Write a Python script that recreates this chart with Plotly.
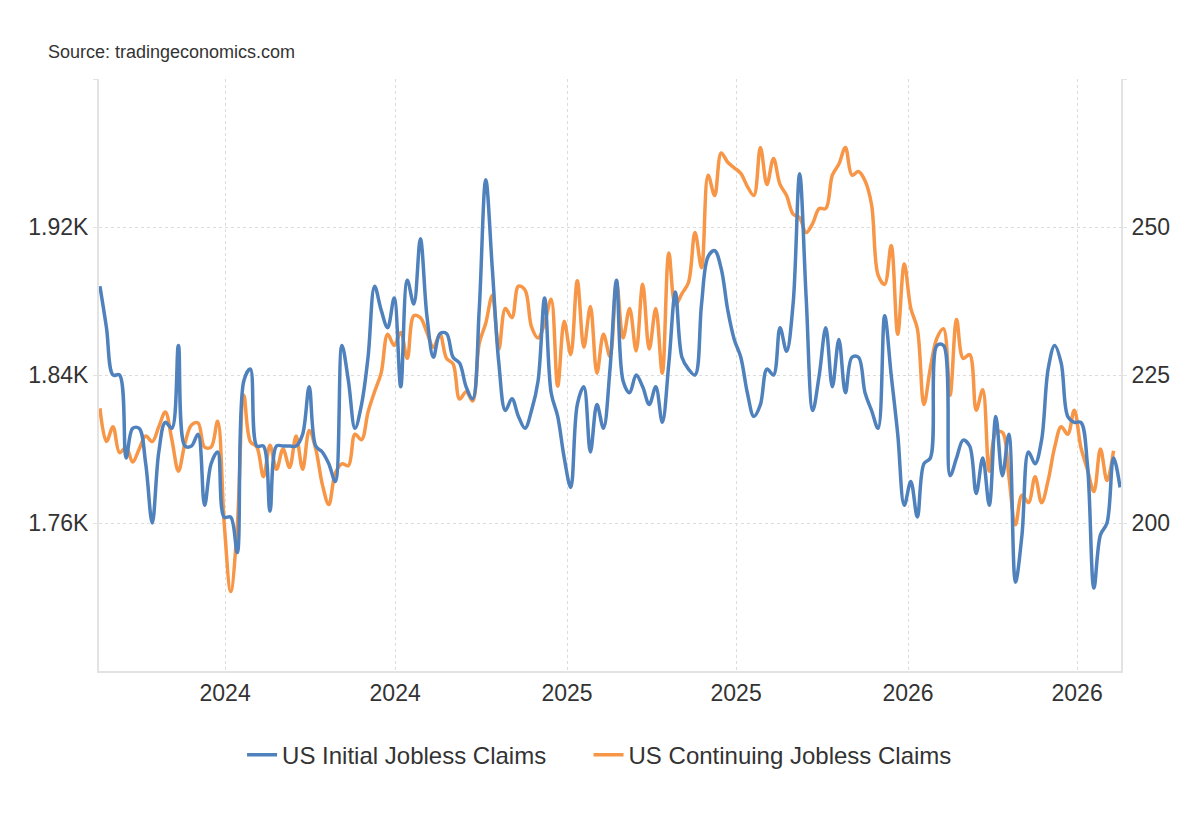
import pandas as pd
import plotly.graph_objects as go

# weekly readings, thousands
initial_claims = [
    240, 233, 225, 225, 211, 216, 216, 210, 200, 212,
    217, 216, 230, 213, 213, 215, 203, 210, 212, 201,
    201, 195, 224, 226, 213, 213, 202, 213, 213, 213,
    213, 215, 223, 213, 212, 210, 207, 230, 224, 216,
    220, 228, 240, 236, 233, 238, 223, 241, 237, 248,
    235, 228, 232, 232, 228, 227, 223, 221, 236, 258,
    243, 227, 219, 221, 218, 216, 219, 224, 238, 222,
    218, 211, 206, 220, 223, 212, 220, 216, 226, 241,
    224, 222, 225, 223, 220, 223, 217, 227, 239, 228,
    226, 225, 237, 245, 246, 243, 236, 231, 228, 222,
    218, 220, 226, 225, 233, 229, 237, 259, 238, 219,
    225, 233, 223, 231, 222, 228, 228, 222, 219, 216,
    235, 225, 215, 203, 207, 201, 210, 211, 230, 230,
    208, 211, 214, 213, 205, 211, 203, 218, 208, 215,
    190, 198, 212, 210, 214, 226, 230, 227, 218, 217,
    217, 210, 189, 198, 200, 211, 206,
]

continuing_claims = [
    1822, 1804, 1812, 1798, 1801, 1793, 1800, 1807, 1804, 1812,
    1820, 1805, 1788, 1803, 1813, 1814, 1801, 1801, 1815, 1760,
    1723, 1758, 1829, 1804, 1801, 1785, 1802, 1789, 1800, 1790,
    1807, 1789, 1810, 1800, 1781, 1770, 1787, 1792, 1791, 1808,
    1805, 1820, 1831, 1841, 1862, 1856, 1863, 1849, 1872, 1871,
    1863, 1855, 1862, 1849, 1846, 1827, 1831, 1826, 1857, 1868,
    1883, 1854, 1876, 1871, 1888, 1886, 1866, 1860, 1868, 1881,
    1834, 1869, 1851, 1891, 1855, 1877, 1841, 1862, 1850, 1890,
    1860, 1876, 1853, 1889, 1854, 1876, 1841, 1906, 1878, 1884,
    1890, 1917, 1898, 1948, 1937, 1960, 1955, 1952, 1949, 1942,
    1937, 1963, 1943, 1957, 1943, 1937, 1927, 1925, 1917, 1922,
    1930, 1930, 1948, 1954, 1963, 1948, 1950, 1945, 1932, 1894,
    1889, 1910, 1862, 1900, 1876, 1865, 1824, 1844, 1860, 1865,
    1829, 1870, 1849, 1851, 1821, 1832, 1788, 1809, 1809, 1785,
    1759, 1775, 1771, 1785, 1771, 1783, 1801, 1812, 1808, 1821,
    1801, 1789, 1777, 1800, 1783, 1799,
]

weeks = pd.date_range("2023-08-20", periods=len(initial_claims), freq="7D")

x_ticks = ["2024-01-01", "2024-07-01", "2025-01-01", "2025-07-01", "2026-01-01", "2026-07-01"]
x_labels = ["2024", "2024", "2025", "2025", "2026", "2026"]
left_ticks = [1760, 1840, 1920, 2000]
left_labels = ["1.76K", "1.84K", "1.92K", ""]
right_ticks = [200, 225, 250, 275]
right_labels = ["200", "225", "250", ""]

BLUE = "#4f81bd"
ORANGE = "#f79646"
GRID = "#dcdcdc"
AXIS = "#e3e3e3"
FONT = "Liberation Sans, Arial, Helvetica, sans-serif"

fig = go.Figure()
fig.add_trace(
    go.Scatter(
        x=weeks,
        y=initial_claims,
        name="US Initial Jobless Claims",
        mode="lines",
        line=dict(color=BLUE, width=3.5, shape="spline"),
        yaxis="y2",
        legend="legend",
    )
)
fig.add_trace(
    go.Scatter(
        x=weeks[: len(continuing_claims)],
        y=continuing_claims,
        name="US Continuing Jobless Claims",
        mode="lines",
        line=dict(color=ORANGE, width=3.5, shape="spline"),
        legend="legend2",
    )
)

legend_style = dict(
    orientation="h",
    xanchor="left",
    y=-0.142,
    yanchor="middle",
    font=dict(size=24, color="#333333"),
    itemwidth=30,
    bgcolor="rgba(0,0,0,0)",
)

# the page puts the figure 8px in from the top left corner, margins allow for it
fig.update_layout(
    width=1200,
    height=820,
    margin=dict(l=91, r=87, t=71, b=157),
    paper_bgcolor="white",
    plot_bgcolor="white",
    font=dict(family=FONT, size=23, color="#333333"),
    showlegend=True,
    legend=dict(x=0.140, **legend_style),
    legend2=dict(x=0.479, **legend_style),
    xaxis=dict(
        range=["2023-08-19", "2026-08-17"],
        tickvals=x_ticks,
        ticktext=x_labels,
        showgrid=True,
        gridcolor=GRID,
        griddash="dot",
        gridwidth=1,
        showline=True,
        linecolor=AXIS,
        linewidth=2,
        ticks="",
        zeroline=False,
    ),
    yaxis=dict(
        range=[1680, 2000],
        tickvals=left_ticks,
        ticktext=left_labels,
        showgrid=True,
        gridcolor=GRID,
        griddash="dot",
        gridwidth=1,
        showline=True,
        linecolor=AXIS,
        linewidth=2,
        ticks="outside",
        ticklen=4,
        tickcolor=AXIS,
        zeroline=False,
    ),
    yaxis2=dict(
        range=[175, 275],
        tickvals=right_ticks,
        ticktext=right_labels,
        overlaying="y",
        side="right",
        showgrid=False,
        showline=True,
        linecolor=AXIS,
        linewidth=2,
        ticks="outside",
        ticklen=4,
        tickcolor=AXIS,
        zeroline=False,
    ),
    annotations=[
        dict(
            text="Source: tradingeconomics.com",
            xref="paper",
            yref="paper",
            x=-0.0519,
            y=1,
            yshift=27,
            xanchor="left",
            yanchor="middle",
            showarrow=False,
            font=dict(size=18, color="#333333"),
        )
    ],
)

fig.write_html("out.html")
